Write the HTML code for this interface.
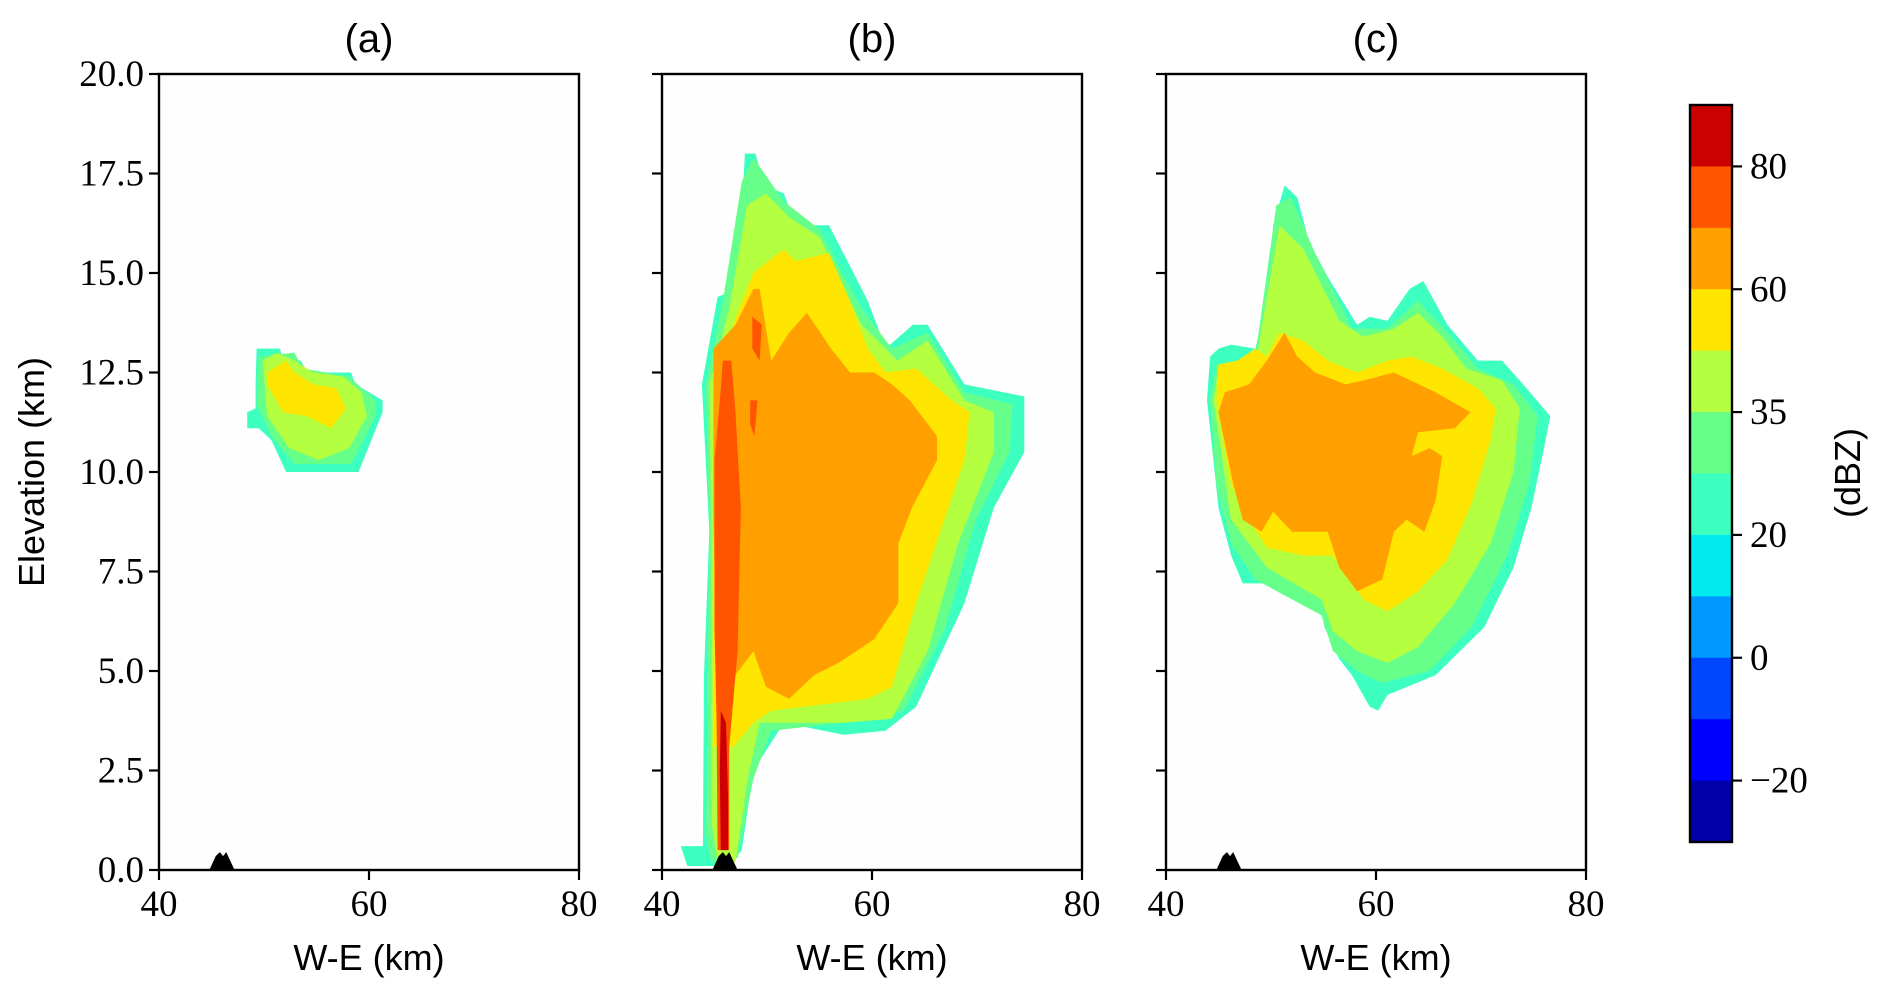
<!DOCTYPE html>
<html><head><meta charset="utf-8"><style>
html,body{margin:0;padding:0;background:#fff}
svg{display:block}
.tk{font-family:"Liberation Serif",serif;font-size:37px;fill:#000}
.lb{font-family:"Liberation Sans",sans-serif;font-size:36px;fill:#000}
</style></head><body>
<svg id="fig" width="1892" height="998" viewBox="0 0 1892 998" xmlns="http://www.w3.org/2000/svg"></svg>
<script>
const panelNames=['(a)','(b)','(c)'];
const xTicks=[40,60,80];
const yTicks=['0.0','2.5','5.0','7.5','10.0','12.5','15.0','17.5','20.0'];
const levelColors=['#3dffc0','#66ff8a','#b3ff40','#ffe600','#ff9f00','#ff5500','#cc0000'];
const cbColors=['#cc0000','#ff5500','#ff9f00','#ffe600','#b3ff40','#66ff8a','#3dffc0','#00eaf0','#0099ff','#0047ff','#0000ff','#0000aa'];
const cbLabels=['80','60','35','20','0','\u221220'];
const cbLabelBins=[1,3,5,7,9,11];
const terrain=[[44.8,0],[45.4,0.35],[45.8,0.45],[46.1,0.35],[46.4,0.45],[47.2,0]];

const panelA=[
 [0,[[49.3,13.1],[51.5,13.1],[51.9,12.8],[53.5,12.8],[54.1,12.5],[58.3,12.5],[58.7,12.2],[61.3,11.8],[61.3,11.5],[59.0,10.0],[52.1,10.0],[50.7,10.8],[49.5,11.1],[48.4,11.1],[48.4,11.5],[49.2,11.6],[49.2,12.2]]],
 [1,[[49.5,12.9],[52.9,13.0],[53.7,12.6],[58.1,12.4],[60.6,11.8],[60.6,11.4],[58.3,10.2],[52.9,10.2],[50.7,10.9],[49.3,11.7]]],
 [2,[[49.9,12.8],[51.2,13.0],[52.9,12.8],[54.7,12.5],[57.5,12.4],[59.3,12.0],[59.8,11.4],[58.1,10.6],[55.2,10.3],[52.4,10.6],[50.3,11.4]]],
 [3,[[50.3,12.5],[52.1,12.8],[52.9,12.5],[54.7,12.2],[56.9,12.1],[57.8,11.6],[56.4,11.1],[54.1,11.4],[51.8,11.5],[50.3,12.2]]]
];
const panelB=[
 [0,[[43.9,0.6],[44.0,4.9],[44.5,8.5],[43.8,12.2],[45.3,14.4],[47.2,14.6],[47.9,18.0],[48.9,18.0],[49.7,17.2],[51.6,17.0],[52.7,16.2],[55.9,16.2],[59.6,14.3],[61.3,13.1],[63.9,13.7],[65.3,13.7],[68.8,12.2],[74.5,11.9],[74.5,10.5],[71.6,9.1],[68.8,6.7],[64.2,4.1],[61.3,3.5],[57.3,3.4],[51.6,3.7],[48.7,2.5],[47.6,0.5],[46.4,0.1],[42.4,0.1],[41.8,0.6]]],
 [1,[[44.2,0.9],[44.5,8.5],[44.2,12.2],[45.8,14.3],[47.6,17.3],[48.7,17.9],[51.6,16.8],[55.0,16.1],[59.0,14.1],[61.9,13.1],[65.3,13.5],[68.8,12.0],[73.4,11.7],[73.1,10.5],[69.9,8.8],[67.0,6.1],[63.0,4.0],[57.3,3.7],[50.4,3.5],[48.7,2.3],[47.2,0.3],[44.7,0.2]]],
 [2,[[44.7,1.2],[44.7,8.5],[44.5,12.2],[46.4,14.1],[48.1,16.7],[49.9,17.0],[52.1,16.4],[55.0,15.9],[59.0,13.7],[62.4,12.8],[65.3,13.3],[68.8,11.8],[71.6,11.5],[71.6,10.5],[68.2,8.2],[65.3,5.5],[61.9,3.8],[57.3,3.7],[49.3,3.7],[48.1,2.2],[47.0,0.2],[45.3,0.2]]],
 [3,[[44.9,3.1],[44.9,8.5],[44.9,12.2],[47.2,14.0],[48.7,15.0],[51.6,15.6],[52.7,15.3],[55.9,15.5],[57.9,14.3],[59.6,13.1],[61.3,12.5],[64.2,12.6],[67.6,11.8],[69.3,11.5],[68.8,10.3],[66.5,8.5],[64.2,6.7],[61.9,4.6],[59.6,4.3],[50.4,4.0],[48.7,3.7],[46.8,3.1]]],
 [4,[[45.2,4.9],[44.9,8.8],[44.9,13.1],[47.0,13.7],[48.7,14.6],[49.3,14.6],[50.4,12.8],[52.1,13.5],[53.8,14.0],[56.1,13.1],[57.9,12.5],[60.2,12.5],[61.9,12.2],[63.6,11.8],[66.2,10.9],[66.2,10.3],[63.8,9.1],[62.5,8.2],[62.5,6.7],[60.2,5.8],[56.8,5.2],[54.5,4.9],[52.1,4.3],[49.9,4.6],[48.7,5.5],[47.0,4.9]]],
 [5,[[45.3,0.5],[45.2,3.7],[45.0,6.1],[45.0,10.3],[45.5,11.8],[45.8,12.8],[46.6,12.8],[47.0,11.5],[47.5,9.1],[47.2,5.5],[46.4,3.1],[46.4,0.5]]],
 [5,[[48.6,13.9],[49.5,13.7],[49.3,12.8],[48.6,13.1]]],
 [5,[[48.4,11.8],[49.1,11.8],[48.8,10.9],[48.4,11.2]]],
 [6,[[45.6,0.5],[45.5,2.5],[45.6,4.0],[46.1,3.7],[46.3,1.8],[46.3,0.5]]]
];
const panelC=[
 [0,[[43.9,11.8],[44.2,12.9],[45.0,13.1],[46.2,13.2],[48.5,13.1],[49.1,13.7],[49.6,13.4],[50.2,16.2],[51.3,17.2],[52.5,16.9],[53.6,15.8],[55.4,14.9],[58.2,13.7],[59.4,13.9],[61.1,13.8],[63.2,14.6],[64.5,14.8],[66.8,13.7],[69.7,12.8],[72.0,12.8],[73.7,12.3],[76.6,11.4],[76.0,10.6],[74.8,9.1],[73.1,7.6],[70.3,6.1],[65.7,4.9],[61.1,4.4],[60.2,4.0],[59.4,4.1],[57.7,4.9],[56.5,5.3],[55.1,6.1],[54.2,7.2],[47.3,7.2],[46.2,7.9],[45.0,9.1]]],
 [1,[[44.2,11.8],[44.8,12.7],[48.5,12.9],[50.5,16.7],[51.9,16.9],[54.2,15.5],[57.7,13.6],[61.1,13.6],[64.0,14.3],[66.8,13.5],[69.7,12.6],[73.1,12.2],[75.4,11.4],[74.6,9.7],[72.5,7.9],[69.1,6.1],[65.1,5.0],[60.5,4.7],[58.2,5.0],[55.9,5.5],[54.8,6.4],[48.5,7.3],[46.2,8.2],[44.8,9.7]]],
 [2,[[44.5,11.8],[45.0,12.6],[48.5,12.7],[50.8,16.2],[53.1,15.6],[54.8,14.7],[56.5,13.8],[58.8,13.4],[61.7,13.6],[64.0,14.0],[66.3,13.4],[68.6,12.6],[72.0,12.3],[73.7,11.6],[73.1,10.0],[70.9,8.2],[67.5,6.7],[64.0,5.6],[61.1,5.2],[58.2,5.5],[55.9,6.0],[54.8,6.8],[49.6,7.6],[46.2,8.8]]],
 [3,[[44.8,11.8],[45.0,12.7],[46.8,12.8],[48.5,13.1],[49.6,12.9],[50.8,13.5],[53.1,13.3],[55.4,12.8],[58.2,12.5],[61.1,12.8],[63.4,12.9],[66.3,12.6],[69.7,12.1],[71.4,11.6],[70.9,10.8],[69.1,9.2],[66.8,7.8],[64.0,7.0],[61.1,6.5],[58.8,6.8],[55.9,7.9],[53.1,7.9],[49.6,8.1],[47.9,8.8],[46.2,9.7]]],
 [4,[[45.0,11.5],[45.6,12.0],[47.9,12.2],[49.6,12.8],[51.3,13.5],[52.5,12.9],[54.2,12.5],[57.1,12.2],[58.8,12.3],[61.7,12.5],[65.7,12.0],[69.0,11.5],[67.5,11.1],[64.0,11.0],[63.4,10.4],[65.1,10.6],[66.3,10.4],[65.7,9.3],[64.6,8.5],[62.9,8.8],[61.7,8.5],[60.6,7.3],[58.2,7.0],[56.5,7.6],[55.4,8.5],[52.0,8.5],[50.2,9.0],[49.1,8.5],[47.3,8.8],[46.4,9.7]]]
];
const panels=[panelA,panelB,panelC];
const panelLeft=[159,662,1166];
</script>
<script>
const NS='http://www.w3.org/2000/svg';
const svg=document.getElementById('fig');
const PW=420, TOP=74, BOT=870;
function mk(t,a,p){const e=document.createElementNS(NS,t);for(const k in a)e.setAttribute(k,a[k]);(p||svg).appendChild(e);return e;}
function xs(i,v){return panelLeft[i]+(v-40)/40*PW;}
function ys(v){return BOT-(v/20)*(BOT-TOP);}
panels.forEach((pd,i)=>{
  const g=mk('g',{});
  
  
  const L=panelLeft[i];
  mk('rect',{x:L,y:TOP,width:PW,height:BOT-TOP,fill:'#fefefe'},g);
  pd.forEach(([lv,pts])=>{
    const p=mk('polygon',{points:pts.map(q=>xs(i,q[0]).toFixed(1)+','+ys(q[1]).toFixed(1)).join(' '),fill:levelColors[lv]},g);
    
    
  });
  const t=mk('polygon',{points:terrain.map(q=>xs(i,q[0]).toFixed(1)+','+ys(q[1]).toFixed(1)).join(' '),fill:'#000'},g);
  
  
  const fr=mk('rect',{x:L,y:TOP,width:PW,height:BOT-TOP,fill:'none',stroke:'#000','stroke-width':2.4},g);
  
  
  xTicks.forEach(v=>{
    const x=xs(i,v);
    mk('line',{x1:x,x2:x,y1:BOT,y2:BOT+10,stroke:'#000','stroke-width':2.2},g);
    const tx=mk('text',{x:x,y:BOT+46,'text-anchor':'middle',class:'tk'},g);
    tx.textContent=v;
    
    
  });
  yTicks.forEach(s=>{
    const y=ys(parseFloat(s));
    mk('line',{x1:L-10,x2:L,y1:y,y2:y,stroke:'#000','stroke-width':2.2},g);
    if(i===0){
      const ty=mk('text',{x:L-15,y:y+12,'text-anchor':'end',class:'tk'},g);
      ty.textContent=s;
      
      
    }
  });
  const ti=mk('text',{x:L+PW/2,y:52,'text-anchor':'middle',class:'lb',style:'font-size:40px'},g);
  ti.textContent=panelNames[i];
  
  
  const xl=mk('text',{x:L+PW/2,y:970,'text-anchor':'middle',class:'lb'},g);
  xl.textContent='W-E (km)';
  
  
});
const yl=mk('text',{x:0,y:0,'text-anchor':'middle',class:'lb',transform:'translate(44,472) rotate(-90)'});
yl.textContent='Elevation (km)';


// colorbar
const cg=mk('g',{});


const CX=1690,CW=42,CT=105,CB=842,bh=(CB-CT)/cbColors.length;
cbColors.forEach((c,k)=>{
  const r=mk('rect',{x:CX,y:CT+k*bh,width:CW,height:bh+0.5,fill:c},cg);
  
  
});
mk('rect',{x:CX,y:CT,width:CW,height:CB-CT,fill:'none',stroke:'#000','stroke-width':2.4},cg);
cbLabels.forEach((s,k)=>{
  const y=CT+cbLabelBins[k]*bh;
  mk('line',{x1:CX+CW,x2:CX+CW+10,y1:y,y2:y,stroke:'#000','stroke-width':2.2},cg);
  const t=mk('text',{x:CX+CW+18,y:y+12,class:'tk'},cg);
  t.textContent=s;
  
  
});
const cl=mk('text',{x:0,y:0,'text-anchor':'middle',class:'lb',transform:'translate(1860,473) rotate(-90)'},cg);
cl.textContent='(dBZ)';


</script>
</body></html>
